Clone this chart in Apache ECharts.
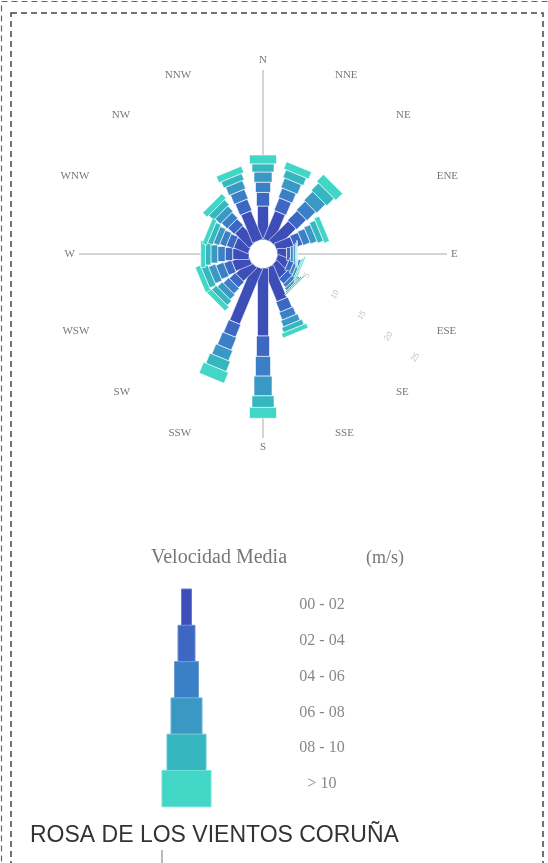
<!DOCTYPE html>
<html>
<head>
<meta charset="utf-8">
<script src="https://cdn.jsdelivr.net/npm/echarts@6/dist/echarts.min.js"></script>
<style>
html, body { margin: 0; padding: 0; background: #fff; }
#chart { width: 548px; height: 863px; }
</style>
</head>
<body>
<div id="chart"></div>
<script>
// direcciones (sentido horario desde el norte)
const directions = ['N', 'NNE', 'NE', 'ENE', 'E', 'ESE', 'SE', 'SSE', 'S', 'SSW', 'SW', 'WSW', 'W', 'WNW', 'NW', 'NNW'];
const speedLabels = ['00 - 02', '02 - 04', '04 - 06', '06 - 08', '08 - 10', '> 10'];

// frecuencia (%) por dirección para cada clase de velocidad
const v00_02 = [5.0, 4.5, 4.0, 2.6, 1.4, 1.8, 2.2, 5.2, 10.0, 8.8, 2.8, 2.6, 2.4, 2.3, 3.0, 4.5];
const v02_04 = [2.0, 2.0, 2.0, 1.3, 0.6, 0.8, 1.0, 1.6, 3.0, 2.0, 1.2, 1.2, 1.1, 1.1, 1.3, 1.8];
const v04_06 = [1.5, 1.5, 1.8, 1.1, 0.4, 0.5, 0.6, 1.2, 2.9, 2.0, 1.1, 1.2, 1.1, 1.0, 1.2, 1.5];
const v06_08 = [1.5, 1.5, 1.8, 1.0, 0.3, 0.4, 0.4, 1.0, 2.9, 1.6, 1.0, 1.1, 1.0, 0.9, 1.1, 1.3];
const v08_10 = [1.2, 1.2, 1.5, 0.9, 0.2, 0.2, 0.2, 0.8, 1.7, 1.6, 0.9, 1.0, 0.8, 0.8, 1.0, 1.0];
const v10_up = [1.3, 1.1, 1.4, 0.8, 0.1, 0.2, 0.2, 0.7, 1.6, 1.7, 0.8, 0.8, 0.7, 0.7, 0.9, 1.0];
const speedData = [v00_02, v02_04, v04_06, v06_08, v08_10, v10_up];

// escala radial (%)
const radiusMax = 25;
const radiusStep = 5;

const colors = ['#3d4eb8', '#3c67c3', '#3b80c6', '#3a98c4', '#36b6be', '#42d6c6'];
const roseWidths = [11, 13, 15, 18, 22, 27];
const legendWidths = [10, 17, 24, 31, 39, 49];

// segmentos apilados [inicio, fin, dirección, clase]
const segments = [];
directions.forEach(function (d, i) {
  let acc = 0;
  speedData.forEach(function (arr, k) {
    segments.push([acc, acc + arr[i], i, k]);
    acc += arr[i];
  });
});

function renderSegment(params, api) {
  const r0 = api.value(0), r1 = api.value(1), a = api.value(2), k = api.value(3);
  const p0 = api.coord([r0, a]);
  const p1 = api.coord([r1, a]);
  const cs = params.coordSys;
  const dx = p1[0] - cs.cx, dy = p1[1] - cs.cy;
  const len = Math.sqrt(dx * dx + dy * dy) || 1;
  const nx = -dy / len, ny = dx / len;
  const h = roseWidths[k] / 2;
  return {
    type: 'polygon',
    z2: k,
    shape: {
      points: [
        [p0[0] + nx * h, p0[1] + ny * h],
        [p1[0] + nx * h, p1[1] + ny * h],
        [p1[0] - nx * h, p1[1] - ny * h],
        [p0[0] - nx * h, p0[1] - ny * h]
      ]
    },
    style: { fill: colors[k], stroke: 'rgba(255,255,255,0.75)', lineWidth: 0.8 }
  };
}

// leyenda escalonada
const legendX = 186.5, legendTop = 589, legendStep = 36.3;
const legendItems = [];
speedLabels.forEach(function (lab, k) {
  const w = legendWidths[k];
  legendItems.push({
    type: 'rect',
    shape: { x: legendX - w / 2, y: legendTop + k * legendStep, width: w, height: legendStep },
    style: { fill: colors[k], stroke: echarts.color.lift(colors[k], 0.25), lineWidth: 1 }
  });
  legendItems.push({
    type: 'text',
    x: 322, y: 605 + k * 35.8,
    style: { text: lab, fill: '#888', font: '16px "Liberation Serif"', align: 'center', verticalAlign: 'middle' }
  });
});

const center = [263, 254];
const chart = echarts.init(document.getElementById('chart'), null, { renderer: 'canvas' });
chart.setOption({
  animation: false,
  backgroundColor: '#fff',
  polar: [
    { center: center, radius: [14, 184] },
    { center: center, radius: [14, 184] }
  ],
  angleAxis: [
    {
      polarIndex: 0,
      type: 'category',
      data: directions,
      boundaryGap: false,
      startAngle: 90,
      clockwise: true,
      axisLine: { show: false },
      axisTick: { show: false },
      axisLabel: { margin: 4, fontFamily: 'Liberation Serif', fontSize: 11, color: '#777' },
      splitLine: { show: true, lineStyle: { color: ['#aaa', 'rgba(0,0,0,0)', 'rgba(0,0,0,0)', 'rgba(0,0,0,0)'], width: 1 } }
    },
    {
      polarIndex: 1,
      type: 'value',
      min: 0, max: 360,
      startAngle: -38,
      axisLine: { show: false },
      axisTick: { show: false },
      axisLabel: { show: false },
      splitLine: { show: false }
    }
  ],
  radiusAxis: [
    {
      polarIndex: 0,
      min: 0, max: radiusMax,
      axisLine: { show: false },
      axisTick: { show: false },
      axisLabel: { show: false },
      splitLine: { show: false }
    },
    {
      polarIndex: 1,
      min: 0, max: radiusMax, interval: radiusStep,
      axisLine: { show: false },
      axisTick: { show: false },
      splitLine: { show: false },
      axisLabel: { color: '#c4c4c4', fontSize: 8, rotate: 57, formatter: function (v) { return v ? String(v) : ''; } }
    }
  ],
  series: [{
    type: 'custom',
    coordinateSystem: 'polar',
    polarIndex: 0,
    renderItem: renderSegment,
    encode: { radius: [0, 1], angle: 2 },
    data: segments
  }],
  graphic: [
    { type: 'rect', silent: true, shape: { x: 1.5, y: 1.5, width: 560, height: 900 },
      style: { fill: 'none', stroke: '#666', lineWidth: 1.2, lineDash: [6, 4] } },
    { type: 'rect', silent: true, shape: { x: 11, y: 13, width: 532, height: 900 },
      style: { fill: 'none', stroke: '#444', lineWidth: 1.5, lineDash: [6, 4] } },
    { type: 'text', x: 219, y: 558,
      style: { text: 'Velocidad Media', fill: '#777', font: '20px "Liberation Serif"', align: 'center', verticalAlign: 'middle' } },
    { type: 'text', x: 385, y: 558,
      style: { text: '(m/s)', fill: '#777', font: '18px "Liberation Serif"', align: 'center', verticalAlign: 'middle' } },
    { type: 'text', x: 30, y: 836,
      style: { text: 'ROSA DE LOS VIENTOS CORUÑA', fill: '#333', font: '23px "Liberation Sans"', align: 'left', verticalAlign: 'middle' } },
    { type: 'line', shape: { x1: 162, y1: 850, x2: 162, y2: 863 }, style: { stroke: '#777', lineWidth: 1 } }
  ].concat(legendItems)
});
</script>
</body>
</html>
